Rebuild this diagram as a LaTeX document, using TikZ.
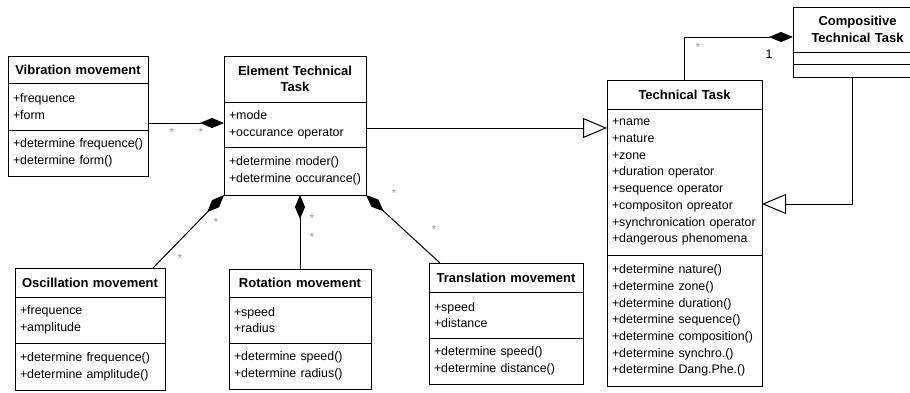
\documentclass[tikz,border=0pt]{standalone}
\usepackage{fontspec}
\setmainfont{Liberation Sans}
\usepackage{tikz}
\usetikzlibrary{positioning,calc,arrows.meta}
\newcommand*\umltitle{\bfseries\fontsize{13}{16.5}\selectfont}
\newcommand*\umlbody {\fontsize{12.4}{16.7}\selectfont}
\tikzset{
    classhead/.style = {draw, line width=1pt, inner xsep=3pt, inner ysep=0pt,
                        outer sep=0pt, align=center, font=\umltitle, text width=#1},
    classpart/.style = {draw, line width=1pt, inner xsep=5pt, inner ysep=0pt,
                        outer sep=0pt, align=left, font=\umlbody, text width=#1},
    mult/.style      = {font=\fontsize{12}{12}\selectfont, text=gray!80, inner sep=0pt},
    compose/.style   = {draw, line width=1pt, {Diamond[length=24pt,width=10pt]}-},
    inherit/.style   = {draw, line width=1pt, -{Triangle[open,length=24pt,width=20pt]}},
}

\begin{document}
\begin{tikzpicture}[x=1pt,y=-1pt]
    \useasboundingbox (0,0) rectangle (910,392);

    % Vibration movement
    \node[classhead=134pt, minimum height=27pt, anchor=north west] (vib) at (8,56) {Vibration movement};
    \node[classpart=130pt, minimum height=47pt, below=0pt of vib] (vib-a) {+frequence\\+form};
    \node[classpart=130pt, minimum height=46pt, below=0pt of vib-a] (vib-m) {+determine frequence()\\+determine form()};

    % Element Technical Task
    \node[classhead=136pt, minimum height=46pt, anchor=north west] (ett) at (224,56) {Element Technical\\Task};
    \node[classpart=132pt, minimum height=45pt, below=0pt of ett] (ett-a) {+mode\\+occurance operator};
    \node[classpart=132pt, minimum height=48pt, below=0pt of ett-a] (ett-m) {+determine moder()\\+determine occurance()};

    % Technical Task
    \node[classhead=149pt, minimum height=29pt, anchor=north west] (tt) at (607,80) {Technical Task};
    \node[classpart=145pt, minimum height=146pt, below=0pt of tt] (tt-a)
        {+name\\+nature\\+zone\\+duration operator\\+sequence operator\\+compositon opreator\\+synchronication operator\\+dangerous phenomena};
    \node[classpart=145pt, minimum height=131pt, below=0pt of tt-a] (tt-m)
        {+determine nature()\\+determine zone()\\+determine duration()\\+determine sequence()\\+determine composition()\\+determine synchro.()\\+determine Dang.Phe.()};

    % Compositive Technical Task
    \node[classhead=123pt, minimum height=45pt, anchor=north west] (comp) at (793,7) {Compositive\\Technical Task};
    \node[classpart=119pt, minimum height=12pt, below=0pt of comp] (comp-a) {};
    \node[classpart=119pt, minimum height=13pt, below=0pt of comp-a] (comp-m) {};

    % Oscillation movement
    \node[classhead=144pt, minimum height=29pt, anchor=north west] (osc) at (15,268) {Oscillation movement};
    \node[classpart=140pt, minimum height=46pt, below=0pt of osc] (osc-a) {+frequence\\+amplitude};
    \node[classpart=140pt, minimum height=47pt, below=0pt of osc-a] (osc-m) {+determine frequence()\\+determine amplitude()};

    % Rotation movement
    \node[classhead=136pt, minimum height=28pt, anchor=north west] (rot) at (229,269) {Rotation movement};
    \node[classpart=132pt, minimum height=46pt, below=0pt of rot] (rot-a) {+speed\\+radius};
    \node[classpart=132pt, minimum height=46pt, below=0pt of rot-a] (rot-m) {+determine speed()\\+determine radius()};

    % Translation movement
    \node[classhead=148pt, minimum height=29pt, anchor=north west] (trans) at (429,263) {Translation movement};
    \node[classpart=144pt, minimum height=46pt, below=0pt of trans] (trans-a) {+speed\\+distance};
    \node[classpart=144pt, minimum height=46pt, below=0pt of trans-a] (trans-m) {+determine speed()\\+determine distance()};

    % Associations
    \coordinate (vibjoint) at ($(vib-a.south east)+(0,-7)$);
    \draw[compose] (ett-a.west |- vibjoint) -- (vibjoint);

    \coordinate (ettjoint) at ($(ett-a.south east)+(0,-19)$);
    \draw[inherit] (ettjoint) -- (tt-a.west |- ettjoint);

    \coordinate (compjoint) at ($(comp.west)+(0,7.5)$);
    \draw[compose] (compjoint) -| (tt.north);

    \coordinate (compfoot) at ($(comp-m.south)+(-5,0)$);
    \coordinate (ttside) at ($(tt-a.east)+(0,22)$);
    \draw[inherit] (compfoot) |- (ttside);

    \draw[compose] (ett-m.south west) -- ($(osc.north east)+(-12,0)$);
    \draw[compose] (rot.north |- ett-m.south) -- (rot.north);
    \draw[compose] (ett-m.south east) -- ($(trans.north west)+(11,0)$);

    % Multiplicities
    \foreach \p [count=\i] in {(172,132),(201,132),(216,222),(180,258),(312,218),
                               (312,237),(394,193),(434,229),(698,47)} {
        \node[mult] (star\i) at \p {*};
    }
    \node[font=\umlbody, inner sep=0pt] (one) at (769,54) {1};
\end{tikzpicture}
\end{document}
